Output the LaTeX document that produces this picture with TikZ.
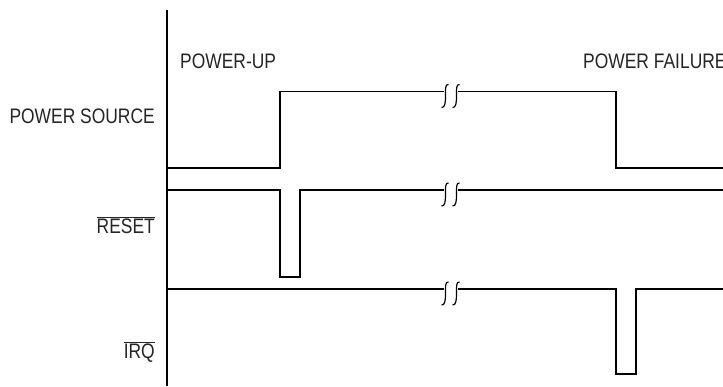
\documentclass[tikz,border=0pt]{standalone}
\usepackage{fontspec}
\setmainfont[FakeStretch=0.83]{Liberation Sans}
\begin{document}
\begin{tikzpicture}[x=1pt,y=-1pt,
  wave/.style={line width=1.4pt, line join=miter},
  lbl/.style={inner sep=0pt, font=\fontsize{21}{25}\selectfont, text=black!85},
  sq/.style={line width=1.2pt}]
\useasboundingbox (0,0) rectangle (723,386);
\fill[white] (0,0) rectangle (723,386);
% axis
\coordinate (axtop) at (167,9.5);
\coordinate (axbot) at (167,386);
\draw[wave] (axtop) -- (axbot);
% labels
\node[lbl, anchor=base east] (ps) at (155,123) {POWER SOURCE};
\node[lbl, anchor=base east] (rst) at (155,233) {$\overline{\hbox{RESET}}$};
\node[lbl, anchor=base east] (irq) at (155,358) {$\overline{\hbox{IRQ}}$};
\node[lbl, anchor=base west] (pu) at (180,68) {POWER-UP};
\node[lbl, anchor=base west] (pf) at (583,68) {POWER FAILURE};
% break squiggles
\tikzset{brk/.pic={
  \draw[sq] (-5.5,-7) .. controls (-9,-7.5) and (-8.5,-2) .. (-8.5,4.5)
                     .. controls (-8.5,11) and (-9,16.5) .. (-12.5,16);
  \draw[sq] (5.5,-7) .. controls (2,-7.5) and (2.5,-2) .. (2.5,4.5)
                     .. controls (2.5,11) and (2,16.5) .. (-1.5,16);
}}
% power source
\draw[wave] (167,168) -- (280,168) -- (280,91.5) -- (444,91.5);
\draw[wave] (458,91.5) -- (616,91.5) -- (616,168) -- (723,168);
\pic at (454,91.5) {brk};
% reset
\draw[wave] (167,190) -- (280,190) -- (280,277) -- (300,277) -- (300,190) -- (444,190);
\draw[wave] (458,190) -- (723,190);
\pic at (454,190) {brk};
% irq
\draw[wave] (167,289) -- (444,289);
\draw[wave] (458,289) -- (616,289) -- (616,374) -- (636,374) -- (636,289) -- (723,289);
\pic at (454,289) {brk};
\end{tikzpicture}
\end{document}
